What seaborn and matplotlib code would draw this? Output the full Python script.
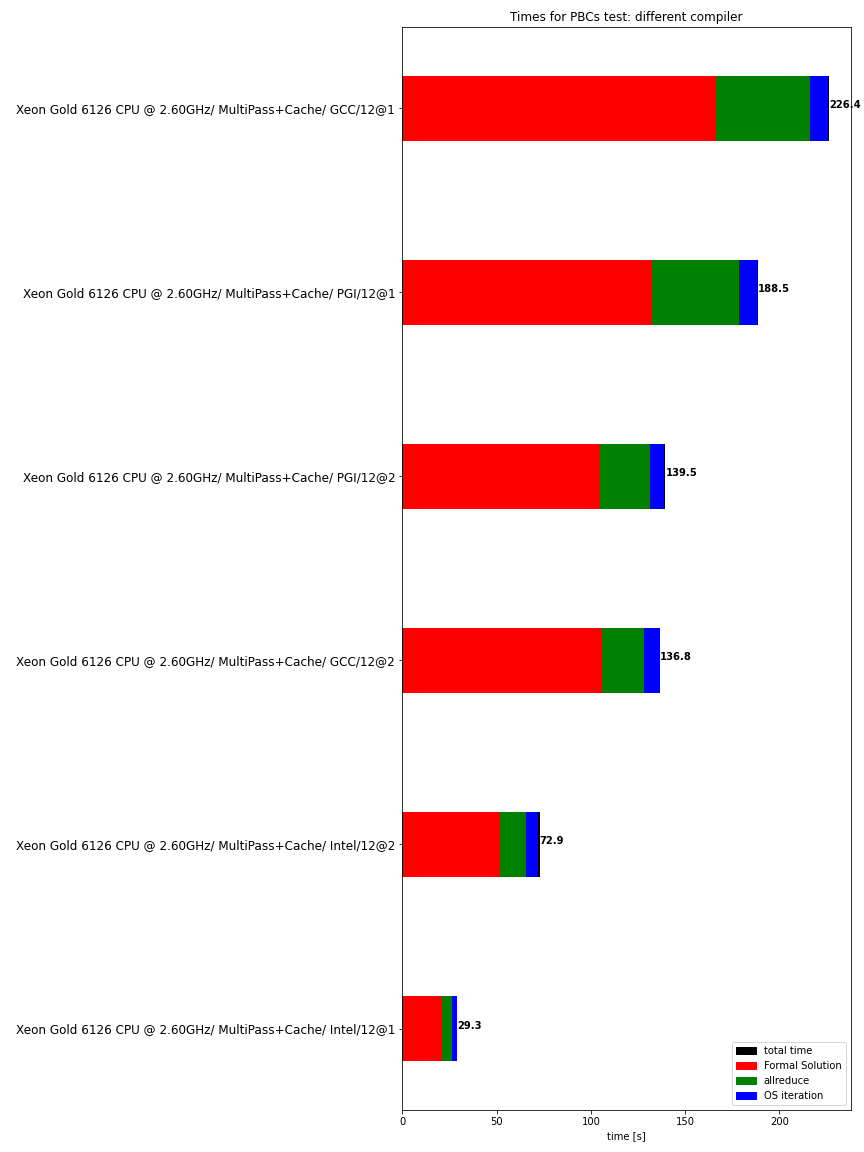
import matplotlib
matplotlib.use("Agg")
import matplotlib.pyplot as plt
import seaborn as sns
import pandas as pd
from matplotlib.patches import Patch

categories = [
    "Xeon Gold 6126 CPU @ 2.60GHz/ MultiPass+Cache/ GCC/12@1",
    "Xeon Gold 6126 CPU @ 2.60GHz/ MultiPass+Cache/ PGI/12@1",
    "Xeon Gold 6126 CPU @ 2.60GHz/ MultiPass+Cache/ PGI/12@2",
    "Xeon Gold 6126 CPU @ 2.60GHz/ MultiPass+Cache/ GCC/12@2",
    "Xeon Gold 6126 CPU @ 2.60GHz/ MultiPass+Cache/ Intel/12@2",
    "Xeon Gold 6126 CPU @ 2.60GHz/ MultiPass+Cache/ Intel/12@1",
]
total_time = [226.4, 188.5, 139.5, 136.8, 72.9, 29.3]
formal_solution = [166.0, 131.9, 104.8, 105.5, 51.8, 20.9]
allreduce = [50.2, 46.7, 26.6, 22.7, 13.8, 5.3]
os_iteration = [9.4, 9.3, 7.5, 8.3, 6.4, 2.8]

df = pd.DataFrame({
    "cat": categories,
    "total": total_time,
    "fs": formal_solution,
    "ar": allreduce,
    "os": os_iteration,
})
df["fs_ar"] = df["fs"] + df["ar"]
df["fs_ar_os"] = df["fs_ar"] + df["os"]

sns.set_style("ticks")
plt.rcParams["font.family"] = ["DejaVu Sans"]
plt.rcParams["text.color"] = "black"
plt.rcParams["axes.labelcolor"] = "black"
plt.rcParams["xtick.color"] = "black"
plt.rcParams["ytick.color"] = "black"

fig, ax = plt.subplots(figsize=(12, 16), dpi=72)
fig.subplots_adjust(left=0.4655, right=0.9845, top=0.9766, bottom=0.0365)

common = dict(y="cat", order=categories, orient="h", width=0.35,
              saturation=1, linewidth=0, ax=ax)
sns.barplot(data=df, x="total", color="black", **common)
sns.barplot(data=df, x="fs_ar_os", color="blue", **common)
sns.barplot(data=df, x="fs_ar", color="green", **common)
sns.barplot(data=df, x="fs", color="red", **common)

for i, t in enumerate(total_time):
    ax.text(t, i, f"{t}", ha="left", va="baseline", fontsize=10,
            fontweight="bold", color="black")

ax.set_ylim(len(categories) - 1 + 0.4425, -0.4425)
ax.set_xlim(0, max(total_time) * 1.05)
ax.set_ylabel("")
ax.set_xlabel("time [s]", fontsize=10)
ax.set_title("Times for PBCs test: different compiler", fontsize=12)
ax.tick_params(axis="y", labelsize=12)
ax.tick_params(axis="x", labelsize=10)
for s in ax.spines.values():
    s.set_visible(True)
    s.set_color("black")
    s.set_linewidth(0.8)

handles = [Patch(color="black", label="total time"),
           Patch(color="red", label="Formal Solution"),
           Patch(color="green", label="allreduce"),
           Patch(color="blue", label="OS iteration")]
ax.legend(handles=handles, loc="lower right", fontsize=10, frameon=True)

fig.savefig("out.png", dpi=72)
